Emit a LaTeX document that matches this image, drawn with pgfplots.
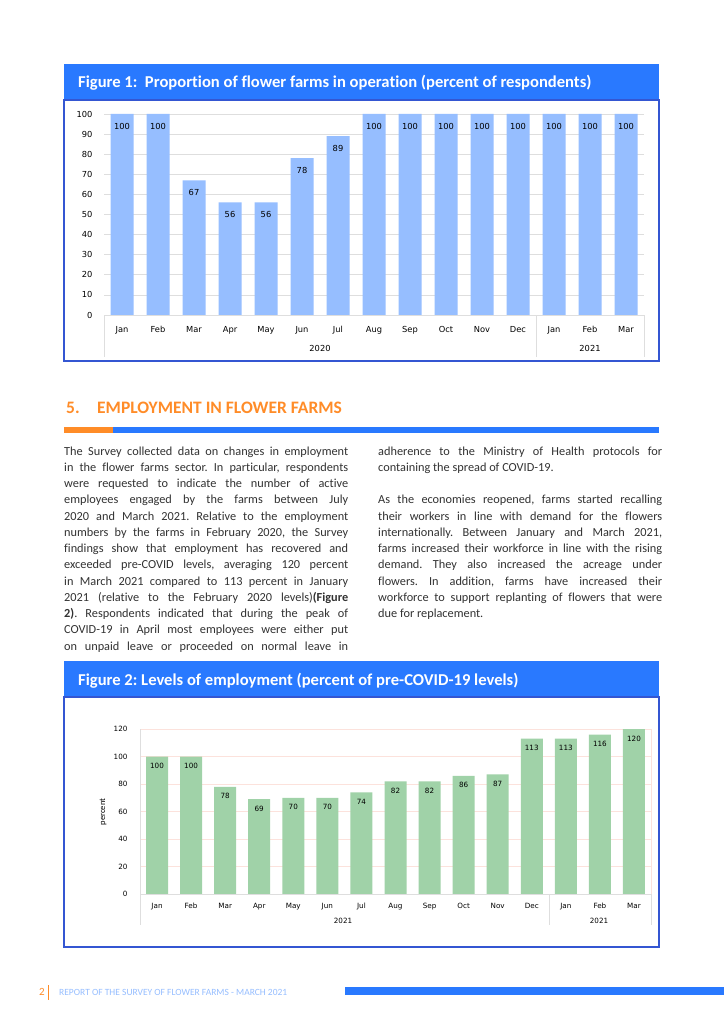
\documentclass[border=0pt]{standalone}
\usepackage{pgfplots}
\pgfplotsset{compat=1.18}
\usepackage{fontspec}
\setmainfont{Carlito}[Ligatures=NoCommon]
\newfontfamily\dv{DejaVu Sans}
\frenchspacing

\definecolor{hdrblue}{RGB}{41,121,255}
\definecolor{boxblue}{RGB}{52,86,210}
\definecolor{barblue}{RGB}{150,190,255}
\definecolor{bargreen}{RGB}{160,210,168}
\definecolor{orng}{RGB}{255,140,40}
\definecolor{gridgray}{RGB}{222,222,222}
\definecolor{gridpink}{RGB}{252,226,220}
\definecolor{txt}{RGB}{50,50,50}
\definecolor{footblue}{RGB}{150,190,255}

\newcommand{\jline}[3]{\node[anchor=base west,inner sep=0,font=\fontsize{12.3}{13}\selectfont,text=txt] at (#1,-#2) {\makebox[284pt][s]{#3}};}
\newcommand{\plainline}[3]{\node[anchor=base west,inner sep=0,font=\fontsize{12.3}{13}\selectfont,text=txt] at (#1,-#2) {#3};}

\begin{document}
\begin{tikzpicture}[x=1pt,y=1pt]
\fill[white] (0,0) rectangle (724,-1024);

% ---------- Figure 1 ----------
\fill[hdrblue] (64,-64) rectangle (659,-100);
\node[anchor=base west,inner sep=0,text=white,font=\fontsize{16.6}{18}\selectfont\bfseries] at (78,-87.5) {Figure 1:\ \ Proportion of flower farms in operation (percent of respondents)};
\draw[boxblue,line width=1.2pt] (64,-100) rectangle (659,-361);

\begin{axis}[
  at={(104pt,-315pt)}, anchor=south west,
  scale only axis, width=540pt, height=201pt,
  xmin=-0.5, xmax=14.5, ymin=0, ymax=100,
  axis line style={draw=none},
  major tick length=0pt,
  ymajorgrids, grid style={gridgray,line width=0.8pt},
  ytick={0,10,...,100},
  xtick={0,...,14},
  xticklabels={Jan,Feb,Mar,Apr,May,Jun,Jul,Aug,Sep,Oct,Nov,Dec,Jan,Feb,Mar},
  tick label style={font=\dv\fontsize{8.3}{9}\selectfont,text=black},
  yticklabel style={anchor=east,xshift=-8pt},
  xticklabel style={anchor=base,yshift=-17pt},
  /pgf/number format/assume math mode=true,
  ybar, bar width=23pt,
  nodes near coords,
  every node near coord/.append style={anchor=center,yshift=-12pt,font=\dv\fontsize{8.3}{9}\selectfont,text=black},
  clip=false,
]
\addplot[fill=barblue,draw=none] coordinates {
(0,100) (1,100) (2,67) (3,56) (4,56) (5,78) (6,89) (7,100)
(8,100) (9,100) (10,100) (11,100) (12,100) (13,100) (14,100)};
\end{axis}
\draw[gridgray,line width=0.8pt] (104,-315) -- (644,-315);
\draw[gridgray,line width=0.8pt] (104,-315) -- (104,-357) (536,-315) -- (536,-357) (644,-315) -- (644,-357);
\node[anchor=base,inner sep=0,font=\dv\fontsize{8.3}{9}\selectfont] at (320,-351.5) {2020};
\node[anchor=base,inner sep=0,font=\dv\fontsize{8.3}{9}\selectfont] at (590,-351.5) {2021};

% ---------- Section heading ----------
\node[anchor=base west,inner sep=0,text=orng,font=\fontsize{17.5}{19}\selectfont\bfseries] at (66,-413.5) {5.};
\node[anchor=base west,inner sep=0,text=orng,font=\fontsize{17.5}{19}\selectfont\bfseries] at (97,-413.5) {EMPLOYMENT IN FLOWER FARMS};
\fill[orng] (64,-427) rectangle (113,-433);
\fill[hdrblue] (113,-427) rectangle (659,-433);

% ---------- Body text ----------
\jline{64}{455.0}{The Survey collected data on changes in employment}
\jline{64}{471.3}{in the flower farms sector. In particular, respondents}
\jline{64}{487.5}{were requested to indicate the number of active}
\jline{64}{503.8}{employees engaged by the farms between July}
\jline{64}{520.0}{2020 and March 2021. Relative to the employment}
\jline{64}{536.3}{numbers by the farms in February 2020, the Survey}
\jline{64}{552.5}{findings show that employment has recovered and}
\jline{64}{568.8}{exceeded pre-COVID levels, averaging 120 percent}
\jline{64}{585.0}{in March 2021 compared to 113 percent in January}
\jline{64}{601.3}{2021 (relative to the February 2020 levels)\textbf{(Figure}}
\jline{64}{617.5}{\textbf{2)}. Respondents indicated that during the peak of}
\jline{64}{633.8}{COVID-19 in April most employees were either put}
\jline{64}{650.0}{on unpaid leave or proceeded on normal leave in}

\jline{378}{455.0}{adherence to the Ministry of Health protocols for}
\plainline{378}{471.3}{containing the spread of COVID-19.}
\jline{378}{503.8}{As the economies reopened, farms started recalling}
\jline{378}{520.0}{their workers in line with demand for the flowers}
\jline{378}{536.3}{internationally. Between January and March 2021,}
\jline{378}{552.5}{farms increased their workforce in line with the rising}
\jline{378}{568.8}{demand. They also increased the acreage under}
\jline{378}{585.0}{flowers. In addition, farms have increased their}
\jline{378}{601.3}{workforce to support replanting of flowers that were}
\plainline{378}{617.5}{due for replacement.}

% ---------- Figure 2 ----------
\fill[hdrblue] (64,-661) rectangle (659,-697);
\node[anchor=base west,inner sep=0,text=white,font=\fontsize{16.6}{18}\selectfont\bfseries] at (78,-685.5) {Figure 2: Levels of employment (percent of pre-COVID-19 levels)};
\draw[boxblue,line width=1.2pt] (64,-697) rectangle (659,-947);

\begin{axis}[
  at={(140pt,-894pt)}, anchor=south west,
  scale only axis, width=511pt, height=165pt,
  xmin=-0.5, xmax=14.5, ymin=0, ymax=120,
  axis line style={draw=none},
  major tick length=0pt,
  ymajorgrids, grid style={gridpink,line width=0.8pt},
  ytick={0,20,...,120},
  xtick={0,...,14},
  xticklabels={Jan,Feb,Mar,Apr,May,Jun,Jul,Aug,Sep,Oct,Nov,Dec,Jan,Feb,Mar},
  tick label style={font=\dv\fontsize{7.2}{8}\selectfont,text=black},
  yticklabel style={anchor=east,xshift=-9pt},
  xticklabel style={anchor=base,yshift=-14.5pt},
  /pgf/number format/assume math mode=true,
  ybar, bar width=22pt,
  nodes near coords,
  every node near coord/.append style={anchor=center,yshift=-9.5pt,font=\dv\fontsize{7.2}{8}\selectfont,text=black},
  clip=false,
]
\addplot[fill=bargreen,draw=none] coordinates {
(0,100) (1,100) (2,78) (3,69) (4,70) (5,70) (6,74) (7,82)
(8,82) (9,86) (10,87) (11,113) (12,113) (13,116) (14,120)};
\end{axis}
\draw[gridpink,line width=0.8pt] (651,-729) -- (651,-894);
\draw[gridgray,line width=0.8pt] (140,-894) -- (651,-894);
\draw[gridgray,line width=0.8pt] (140,-729) -- (140,-925) (549,-894) -- (549,-925) (651,-894) -- (651,-925);
\node[anchor=base,inner sep=0,font=\dv\fontsize{7.2}{8}\selectfont] at (343,-923) {2021};
\node[anchor=base,inner sep=0,font=\dv\fontsize{7.2}{8}\selectfont] at (599,-923) {2021};
\node[rotate=90,font=\fontsize{8.5}{10}\selectfont] at (103,-812) {percent};

% ---------- Footer ----------
\node[anchor=base,inner sep=0,text=orng,font=\fontsize{11}{12}\selectfont] at (42,-995) {2};
\draw[orng,line width=0.6pt] (48,-985) -- (48,-1000);
\node[anchor=base west,inner sep=0,text=footblue,font=\fontsize{9.5}{11}\selectfont] at (59,-995) {REPORT OF THE SURVEY OF FLOWER FARMS - MARCH 2021};
\fill[hdrblue] (345,-987) rectangle (724,-995);
\end{tikzpicture}
\end{document}
